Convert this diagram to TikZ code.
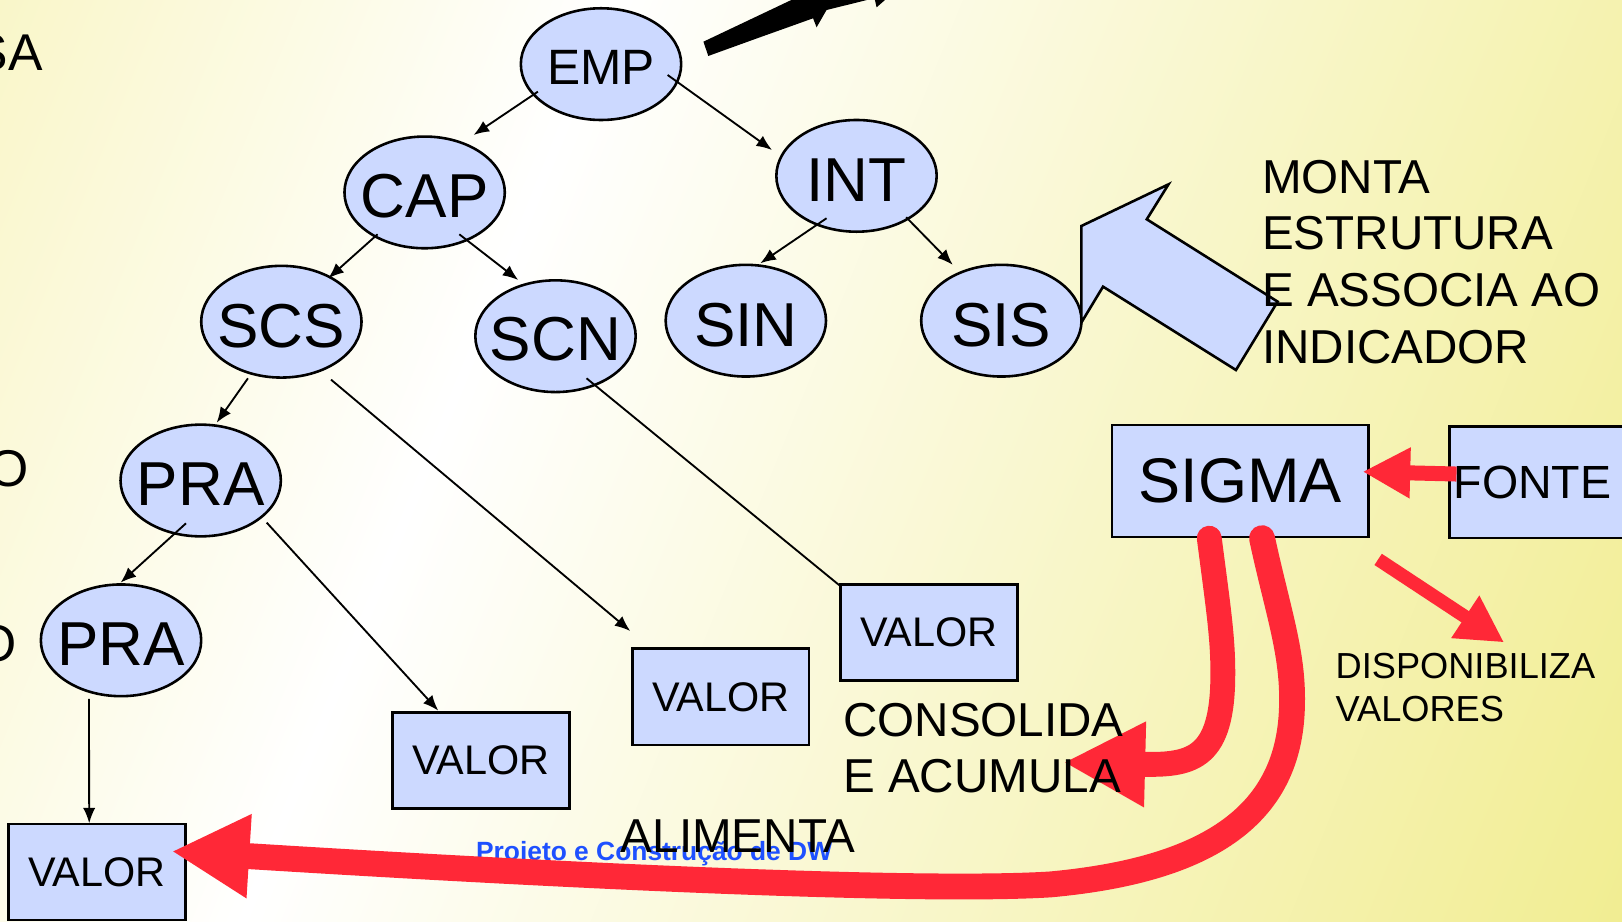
\documentclass[tikz,border=0pt]{standalone}
\usepackage{fontspec}
\setmainfont{Liberation Sans}
\usetikzlibrary{shapes.geometric,arrows.meta,calc}
\definecolor{nodeblue}{RGB}{204,217,255}
\definecolor{redc}{RGB}{255,40,55}
\definecolor{ylA}{RGB}{249,246,200}
\definecolor{ylB}{RGB}{241,237,145}
\definecolor{footblue}{RGB}{30,80,255}
\tikzset{
  ell/.style={ellipse, draw=black, line width=2.5pt, fill=nodeblue, minimum width=155pt, minimum height=108pt, inner sep=0pt},
  elltxt/.style={font=\fontsize{60}{60}\selectfont, yshift=-4pt, inner sep=0pt},
  box/.style={rectangle, draw=black, line width=2.5pt, fill=nodeblue, inner sep=0pt},
  valbox/.style={box, minimum width=171pt, minimum height=93pt, font=\fontsize{40}{40}\selectfont},
  arr/.style={line width=1.8pt, -{Latex[length=15pt,width=12pt]}},
  plainline/.style={line width=1.8pt},
  lbl/.style={anchor=base west, inner sep=0pt, align=left},
  lblr/.style={anchor=base east, inner sep=0pt, font=\fontsize{50}{50}\selectfont},
}
\begin{document}
\begin{tikzpicture}[x=1pt,y=-1pt]
\useasboundingbox (0,0) rectangle (1568,890.4);
% background
\fill[ylB] (0,0) rectangle (1568,890.4);
\begin{scope}[transform canvas={rotate=-22}]
  \shade[left color=ylA, right color=white] (-10,-3000) rectangle (551,3000);
  \shade[left color=white, right color=ylB] (550,-3000) rectangle (1800,3000);
\end{scope}

% left cut texts
\node[lblr] (sa) at (41.3,68.6) {SA};
\node[lblr] (o1) at (27.8,470) {O};
\node[lblr] (o2) at (16.5,639) {O};

% black thick arrow at top
\fill[black] (680,40.3) -- (765,0) -- (838,0) -- (799,9.7) -- (789.4,26.4) -- (786,17.7) -- (732,37) -- (684.7,54.1) -- cycle;
\fill[black] (845.8,0) -- (847.4,7.1) -- (855.5,0) -- cycle;

% ellipses
\node[ell, label={[elltxt, font=\fontsize{48}{48}\selectfont, yshift=0.5pt]center:EMP}] (emp) at (581,62) {};
\node[ell, label={[elltxt]center:CAP}] (cap) at (410.5,186) {};
\node[ell, label={[elltxt]center:INT}] (int) at (828,170) {};
\node[ell, label={[elltxt]center:SCS}] (scs) at (272,311) {};
\node[ell, label={[elltxt, yshift=1pt]center:SCN}] (scn) at (537,325) {};
\node[ell, label={[elltxt]center:SIN}] (sin) at (721,310) {};
\node[ell, label={[elltxt]center:SIS}] (sis) at (968,310) {};
\node[ell, label={[elltxt]center:PRA}] (pra1) at (194,464.5) {};
\node[ell, label={[elltxt]center:PRA}] (pra2) at (117,619) {};

% boxes
\node[valbox] (valA) at (93.75,843) {VALOR};
\node[valbox] (valB) at (464.8,735) {VALOR};
\node[valbox] (valC) at (696.7,673.6) {VALOR};
\node[valbox] (valD) at (898,611.4) {VALOR};
\node[box, minimum width=248pt, minimum height=108pt, font=\fontsize{61}{61}\selectfont] (sigma) at (1199,465) {SIGMA};
\node[box, anchor=north west, minimum height=108pt, minimum width=260pt, text width=252pt, align=left, inner xsep=4pt, font=\fontsize{45}{45}\selectfont] (fonte) at (1400,411) {FONTE};

% tree connectors
\draw[arr] ($(emp.center)+(-61,26.6)$) -- ($(cap.center)+(47.3,-55.5)$);
\draw[arr] ($(emp.center)+(64.4,10.5)$) -- ($(int.center)+(-81.7,-25)$);
\draw[arr] ($(cap.center)+(-45.5,40.5)$) -- ($(scs.center)+(45.4,-42)$);
\draw[arr] ($(cap.center)+(33.5,40.5)$) -- ($(scn.center)+(-36,-54.3)$);
\draw[arr] ($(int.center)+(-29,41)$) -- ($(sin.center)+(14,-55.5)$);
\draw[arr] ($(int.center)+(48,40)$) -- ($(sis.center)+(-47,-54)$);
\draw[arr] ($(scs.center)+(-32.3,54.7)$) -- ($(pra1.center)+(15.5,-55.9)$);
\draw[arr] ($(scs.center)+(48,56)$) -- ($(valC.center)+(-87.4,-63.6)$);
\draw[plainline] ($(scn.center)+(30,40.7)$) -- ($(valD.north west)+(0,2)$);
\draw[arr] ($(pra1.center)+(-14.2,41.4)$) -- ($(pra2.center)+(-0.4,-55.8)$);
\draw[arr] ($(pra1.center)+(63.8,40.7)$) -- ($(valB.center)+(-41.1,-48)$);
\draw[arr] ($(pra2.center)+(-31,56.7)$) -- ($(valA.center)+(-7.5,-47.1)$);

% big blue block arrow
\draw[line width=2.5pt, fill=nodeblue, line join=miter] (1045.3,218.5) -- (1129.6,178.2) -- (1108.6,212) -- (1235.1,291.6) -- (1194.8,357.7) -- (1066.3,277.1) -- (1045.3,311.9) -- cycle;

% footer and ALIMENTA
\node[lbl, font=\bfseries\fontsize{25.5}{25.5}\selectfont, text=footblue] (foot) at (460,831.5) {Projeto e Construção de DW};
\node[lbl, font=\fontsize{46}{46}\selectfont] (alim) at (600,824) {ALIMENTA};

% red arrows
\coordinate (dispo) at (1454,621);
\coordinate (cons) at (1028,737);
\draw[redc, line width=14.5pt, -{Triangle[length=46pt,width=46pt]}] ($(fonte.west)+(8,-8)$) -- ($(sigma.east)+(-7,-9)$);
\draw[redc, line width=13pt, -{Triangle[length=45pt,width=46pt]}] ($(sigma.south east)+(8,20.5)$) -- (dispo);
\draw[redc, line width=24pt, line cap=round, -{Triangle[length=79pt,width=77pt]}] ($(sigma.south)+(-30,0)$) .. controls (1178,590) and (1183,620) .. (1182,660) .. controls (1180,735) and (1150,740) .. (cons);
\draw[redc, line width=25pt, line cap=round, -{Triangle[length=75pt,width=76pt]}] ($(sigma.south)+(21,0)$) .. controls (1235,590) and (1250,630) .. (1249,680) .. controls (1248,780) and (1180,840) .. (1015,855) .. controls (900,862) and (600,850) .. ($(valA.east)+(-14.5,-20)$);

% texts (base anchor = last line baseline)
\node[lbl, font=\fontsize{46}{54.7}\selectfont] (monta) at (1220,351) {MONTA\\ESTRUTURA\\E ASSOCIA AO\\INDICADOR};
\node[lbl, font=\fontsize{35}{41}\selectfont] (dispt) at (1291,697) {DISPONIBILIZA\\VALORES};
\node[lbl, font=\fontsize{46}{54}\selectfont] (const) at (815,766) {CONSOLIDA\\E ACUMULA};
\end{tikzpicture}
\end{document}
